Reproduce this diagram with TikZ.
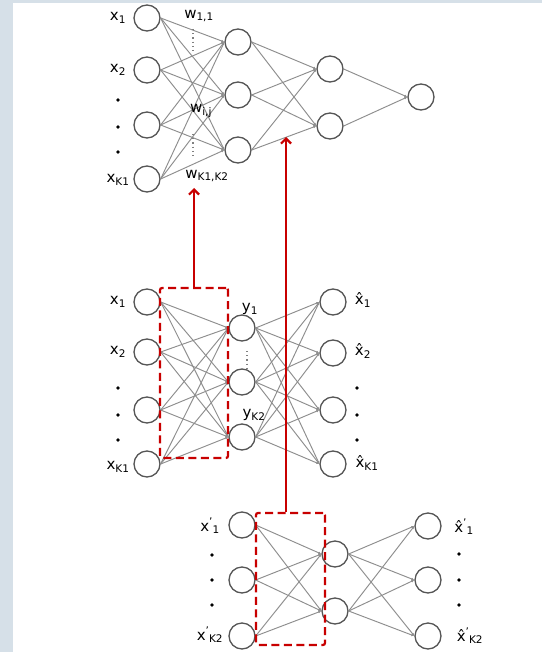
\documentclass[tikz,border=0pt]{standalone}
\usepackage{fontspec}
\setmainfont{DejaVu Sans}
\usetikzlibrary{arrows.meta}
\definecolor{framec}{HTML}{D6E0E8}
\definecolor{redc}{HTML}{C80000}
\definecolor{edgec}{HTML}{8E8E8E}
\definecolor{circc}{HTML}{555555}
\newcommand\psub[2]{#1\textsuperscript{\symbol{39}}\kern-0.5pt\textsubscript{#2}}
\begin{document}
\begin{tikzpicture}[x=1pt,y=-1pt,
 neuron/.style={circle,draw=circc,line width=1.3pt,minimum size=26pt,inner sep=0pt},
 edge/.style={draw=edgec,line width=0.95pt,-{Latex[length=3pt,width=2.6pt]}},
 lbl/.style={font=\fontsize{15}{15}\selectfont,inner sep=0pt},
 dotn/.style={circle,fill=black,inner sep=0pt,minimum size=3.8pt},
 redbox/.style={draw=redc,line width=2.2pt,dash pattern=on 8pt off 4.5pt,rounded corners=2pt,inner sep=0pt},
 redarrow/.style={draw=redc,line width=2.2pt,-{Straight Barb[length=5pt,width=10pt]}},
 vdotline/.style={draw=gray,line width=1.2pt,dash pattern=on 1.2pt off 3pt}
]
\fill[framec] (0,0) rectangle (542,652);
\fill[white] (13,3) rectangle (542,652);
\useasboundingbox (0,0) rectangle (542,652);

% ---------- top network ----------
\node[neuron] (a1) at (147,18) {};
\node[neuron] (a2) at (147,70) {};
\node[neuron] (a3) at (147,125) {};
\node[neuron] (a4) at (147,179) {};
\node[neuron] (b1) at (238,42) {};
\node[neuron] (b2) at (238,95) {};
\node[neuron] (b3) at (238,150) {};
\node[neuron] (c1) at (330,69) {};
\node[neuron] (c2) at (330,126) {};
\node[neuron] (d1) at (421,97) {};
\foreach \i in {1,...,4} \foreach \j in {1,2,3} \draw[edge] (a\i.east) -- (b\j.west);
\foreach \i in {1,2,3} \foreach \j in {1,2} \draw[edge] (b\i.east) -- (c\j.west);
\foreach \i in {1,2} \draw[edge] (c\i.east) -- (d1.west);

\node[lbl] (la1) at (118,18) {x\textsubscript{1}};
\node[lbl] (la2) at (118,70) {x\textsubscript{2}};
\node[dotn] (da1) at (118,100) {};
\node[dotn] (da2) at (118,127) {};
\node[dotn] (da3) at (118,152) {};
\node[lbl] (la4) at (118,180) {x\textsubscript{K1}};
\node[lbl] (w11) at (199,16) {w\textsubscript{1,1}};
\node[lbl] (wij) at (201,111) {w\textsubscript{i,j}};
\node[lbl] (wK) at (207,176) {w\textsubscript{K1,K2}};
\draw[vdotline] (193,29) -- (193,52);
\draw[vdotline] (193,134) -- (193,158);

% ---------- middle network ----------
\node[neuron] (m1) at (147,302) {};
\node[neuron] (m2) at (147,352) {};
\node[neuron] (m3) at (147,410) {};
\node[neuron] (m4) at (147,464) {};
\node[neuron] (h1) at (242,328) {};
\node[neuron] (h2) at (242,382) {};
\node[neuron] (h3) at (242,437) {};
\node[neuron] (o1) at (333,302) {};
\node[neuron] (o2) at (333,353) {};
\node[neuron] (o3) at (333,410) {};
\node[neuron] (o4) at (333,464) {};
\foreach \i in {1,...,4} \foreach \j in {1,2,3} \draw[edge] (m\i.east) -- (h\j.west);
\foreach \i in {1,2,3} \foreach \j in {1,...,4} \draw[edge] (h\i.east) -- (o\j.west);

\node[lbl] (lm1) at (118,302) {x\textsubscript{1}};
\node[lbl] (lm2) at (118,352) {x\textsubscript{2}};
\node[dotn] (dm1) at (118,388) {};
\node[dotn] (dm2) at (118,415) {};
\node[dotn] (dm3) at (118,440) {};
\node[lbl] (lm4) at (118,467) {x\textsubscript{K1}};
\node[lbl] (ly1) at (250,309) {y\textsubscript{1}};
\draw[vdotline] (247,351) -- (247,368);
\node[lbl] (lyK) at (254,415) {y\textsubscript{K2}};
\node[lbl] (lo1) at (363,300) {\^x\textsubscript{1}};
\node[lbl] (lo2) at (363,351) {\^x\textsubscript{2}};
\node[dotn] (do1) at (357,388) {};
\node[dotn] (do2) at (357,415) {};
\node[dotn] (do3) at (357,440) {};
\node[lbl] (lo4) at (367,463) {\^x\textsubscript{K1}};

\node[redbox,minimum width=68pt,minimum height=170pt] (rm) at (194,373) {};
\coordinate (tA) at (194,188);
\draw[redarrow] (rm.north) -- (tA);

% ---------- bottom network ----------
\node[neuron] (n1) at (242,525) {};
\node[neuron] (n2) at (242,580) {};
\node[neuron] (n3) at (242,636) {};
\node[neuron] (p1) at (335,554) {};
\node[neuron] (p2) at (335,611) {};
\node[neuron] (q1) at (428,526) {};
\node[neuron] (q2) at (428,580) {};
\node[neuron] (q3) at (428,636) {};
\foreach \i in {1,2,3} \foreach \j in {1,2} \draw[edge] (n\i.east) -- (p\j.west);
\foreach \i in {1,2} \foreach \j in {1,2,3} \draw[edge] (p\i.east) -- (q\j.west);

\node[lbl] (ln1) at (210,526) {\psub{x}{1}};
\node[dotn] (dn1) at (212,555) {};
\node[dotn] (dn2) at (212,580) {};
\node[dotn] (dn3) at (212,605) {};
\node[lbl] (ln3) at (210,635) {\psub{x}{K2}};
\node[lbl] (lq1) at (464,527) {\psub{\^x}{1}};
\node[dotn] (dq1) at (459,554) {};
\node[dotn] (dq2) at (459,580) {};
\node[dotn] (dq3) at (459,605) {};
\node[lbl] (lq3) at (470,636) {\psub{\^x}{K2}};

\node[redbox,minimum width=69pt,minimum height=132pt] (rb) at (290.5,579) {};
\coordinate (tB) at (286,137);
\draw[redarrow] (tB |- rb.north) -- (tB);
\end{tikzpicture}
\end{document}
